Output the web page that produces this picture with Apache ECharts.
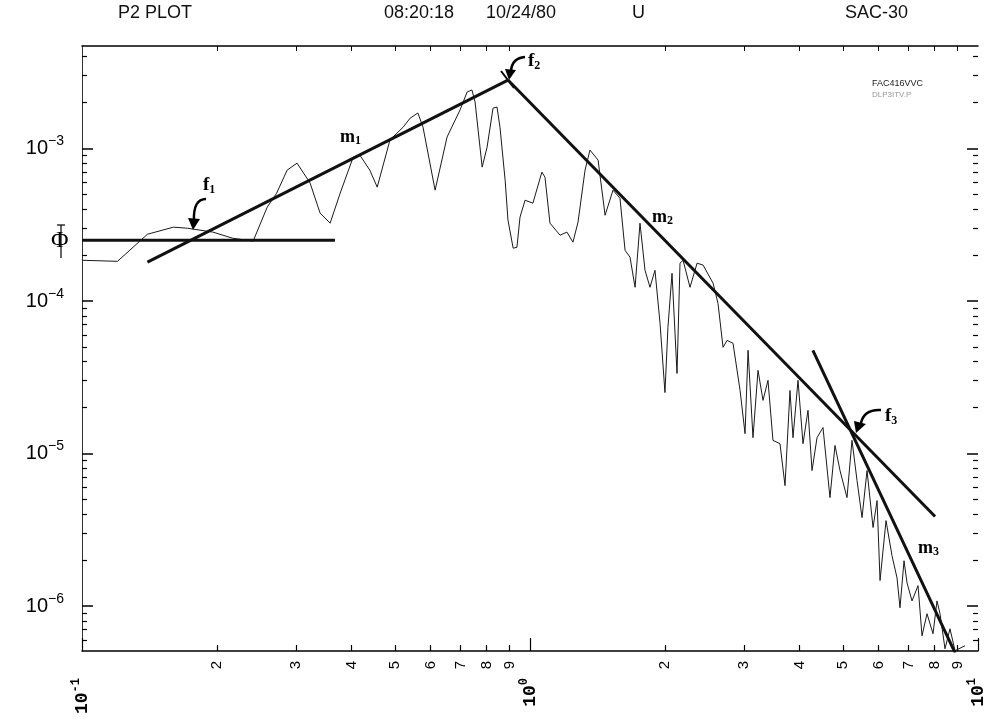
<!DOCTYPE html>
<html>
<head>
<meta charset="utf-8">
<title>P2 PLOT</title>
<script src="https://cdn.jsdelivr.net/npm/echarts@6.0.0/dist/echarts.min.js"></script>
<style>
html, body { margin: 0; padding: 0; background: #fff; }
#main { width: 995px; height: 727px; }
</style>
</head>
<body>
<div id="main"></div>
<script>
// spectrum (frequency, amplitude)
var freq = [0.100,0.120,0.140,0.160,0.172,0.196,0.217,0.241,0.259,0.272,
    0.287,0.302,0.323,0.340,0.358,0.377,0.403,0.417,0.439,0.456,
    0.487,0.521,0.540,0.562,0.577,0.614,0.653,0.698,0.724,0.742,
    0.754,0.782,0.802,0.827,0.844,0.857,0.880,0.893,0.917,0.935,
    0.950,0.975,1.015,1.063,1.080,1.108,1.167,1.209,1.247,1.280,
    1.327,1.361,1.419,1.471,1.532,1.588,1.630,1.672,1.716,1.760,
    1.806,1.853,1.901,1.951,2.001,2.032,2.075,2.129,2.162,2.196,
    2.276,2.360,2.434,2.562,2.628,2.697,2.753,2.839,2.944,3.020,
    3.067,3.146,3.228,3.312,3.398,3.486,3.614,3.709,3.805,3.864,
    3.965,4.068,4.174,4.261,4.372,4.508,4.673,4.795,4.920,5.100,
    5.233,5.370,5.510,5.653,5.831,5.952,6.044,6.233,6.427,6.595,
    6.697,6.837,6.943,7.124,7.348,7.499,7.695,7.936,8.100,8.227,
    8.440,8.660,8.886,9.354];
var amp = [1.85e-4,1.82e-4,2.74e-4,3.05e-4,3.00e-4,2.83e-4,2.58e-4,2.47e-4,4.12e-4,5.10e-4,
    7.21e-4,8.02e-4,5.93e-4,3.77e-4,3.24e-4,5.10e-4,8.78e-4,9.05e-4,7.21e-4,5.58e-4,
    1.14e-3,1.38e-3,1.58e-3,1.71e-3,1.38e-3,5.33e-4,1.19e-3,1.79e-3,2.35e-3,2.42e-3,
    2.02e-3,7.55e-4,1.02e-3,1.84e-3,1.87e-3,1.38e-3,6.20e-4,3.39e-4,2.22e-4,2.25e-4,
    3.55e-4,4.58e-4,4.38e-4,7.00e-4,6.49e-4,3.24e-4,2.70e-4,2.83e-4,2.43e-4,3.29e-4,
    7.21e-4,9.76e-4,8.39e-4,3.65e-4,5.33e-4,4.72e-4,2.15e-4,1.94e-4,1.23e-4,3.24e-4,
    1.59e-4,1.23e-4,1.59e-4,7.14e-5,2.51e-5,6.72e-5,1.52e-4,3.35e-5,1.77e-4,1.85e-4,
    1.23e-4,1.77e-4,1.72e-4,1.31e-4,9.66e-5,4.97e-5,5.52e-5,5.28e-5,2.59e-5,1.35e-5,
    4.75e-5,1.27e-5,3.51e-5,2.23e-5,3.02e-5,1.22e-5,1.16e-5,6.16e-6,2.59e-5,1.27e-5,
    3.02e-5,1.16e-5,1.92e-5,7.73e-6,1.27e-5,1.48e-5,5.14e-6,1.13e-5,7.73e-6,5.14e-6,
    1.22e-5,6.65e-6,3.80e-6,7.73e-6,3.27e-6,4.91e-6,1.47e-6,3.63e-6,2.14e-6,1.53e-6,
    9.74e-7,1.98e-6,1.42e-6,1.08e-6,1.36e-6,6.38e-7,8.90e-7,6.58e-7,1.08e-6,8.90e-7,
    5.24e-7,7.09e-7,5.09e-7,5.49e-7];

// straight-line fits
var phiLine = [[0.1, 2.5e-4], [0.367, 2.5e-4]];
var m1Line = [[0.140, 1.80e-4], [0.893, 2.81e-3]];
var m2Line = [[0.893, 2.81e-3], [8.02, 3.86e-6]];
var m3Line = [[4.28, 4.75e-5], [8.89, 4.93e-7]];

// axis ticks and labels
var xMinorTicks = [0.2,0.3,0.4,0.5,0.6,0.7,0.8,0.9,2,3,4,5,6,7,8,9];
var xMinorLabels = ['2','3','4','5','6','7','8','9','2','3','4','5','6','7','8','9'];
var xDecades = [0.1, 1, 10];
var xDecadeLabels = ['-1', '0', '1'];
var yDecades = [1e-3, 1e-4, 1e-5, 1e-6];
var yDecadeLabels = ['−3', '−4', '−5', '−6'];
var yMinorTicks = [6e-7,7e-7,8e-7,9e-7,
    2e-6,3e-6,4e-6,5e-6,6e-6,7e-6,8e-6,9e-6,
    2e-5,3e-5,4e-5,5e-5,6e-5,7e-5,8e-5,9e-5,
    2e-4,3e-4,4e-4,5e-4,6e-4,7e-4,8e-4,9e-4,
    2e-3,3e-3,4e-3];

var xMin = 0.1, xMax = 10, yMin = 5.07e-7, yMax = 4.7e-3;

function pick(vals, labels, v) {
    for (var i = 0; i < vals.length; i++) {
        if (Math.abs(vals[i] - v) / vals[i] < 1e-6) return labels[i];
    }
    return '';
}

var spectrum = freq.map(function (f, i) { return [f, amp[i]]; });

var chart = echarts.init(document.getElementById('main'));

var black = '#000';
var serifBold = { fontFamily: 'Liberation Serif', fontWeight: 'bold', color: black };

function fitSeries(name, data) {
    return {
        name: name, type: 'line', data: data, symbol: 'none',
        lineStyle: { color: '#111', width: 3 }, silent: true
    };
}

function subLabel(main, sub, size) {
    return {
        text: '{a|' + main + '}{b|' + sub + '}',
        rich: {
            a: Object.assign({ fontSize: size, lineHeight: size + 2 }, serifBold),
            b: Object.assign({ fontSize: 12, lineHeight: 12, verticalAlign: 'bottom' }, serifBold)
        }
    };
}

var option = {
    animation: false,
    backgroundColor: '#fff',
    grid: { left: 82, right: 17, top: 46, bottom: 76, outerBoundsMode: 'none' },
    xAxis: [{
        type: 'log', min: xMin, max: xMax, position: 'bottom',
        axisLine: { show: true, onZero: false, lineStyle: { color: black, width: 1.5 } },
        axisTick: { show: true, inside: true, length: 6, customValues: xMinorTicks, lineStyle: { color: black, width: 1.2 } },
        axisLabel: {
            show: true, customValues: xMinorTicks, rotate: 90, margin: 10,
            fontFamily: 'Liberation Sans', fontSize: 15, color: black,
            formatter: function (v) { return pick(xMinorTicks, xMinorLabels, v); }
        },
        splitLine: { show: false }
    }, {
        type: 'log', min: xMin, max: xMax, position: 'bottom',
        axisLine: { show: false },
        axisTick: { show: true, inside: true, length: 13, customValues: xDecades, lineStyle: { color: black, width: 1.2 } },
        axisLabel: {
            show: true, customValues: xDecades, rotate: 90, margin: 27,
            formatter: function (v) { return '{b|10}{s|' + pick(xDecades, xDecadeLabels, v) + '}'; },
            rich: {
                b: { fontFamily: 'Liberation Mono', fontWeight: 'bold', fontSize: 18, lineHeight: 24, color: black },
                s: { fontFamily: 'Liberation Mono', fontWeight: 'bold', fontSize: 12, lineHeight: 12, color: black, verticalAlign: 'top' }
            }
        },
        splitLine: { show: false }
    }, {
        type: 'log', min: xMin, max: xMax, position: 'top',
        axisLine: { show: true, onZero: false, lineStyle: { color: black, width: 1.5 } },
        axisTick: { show: true, inside: true, length: 5, customValues: xMinorTicks, lineStyle: { color: black } },
        axisLabel: { show: false },
        splitLine: { show: false }
    }],
    yAxis: [{
        type: 'log', min: yMin, max: yMax, position: 'left',
        axisLine: { show: true, onZero: false, lineStyle: { color: '#333', width: 1 } },
        axisTick: { show: true, inside: true, length: 5, customValues: yMinorTicks, lineStyle: { color: black, width: 1.2 } },
        axisLabel: { show: false },
        splitLine: { show: false }
    }, {
        type: 'log', min: yMin, max: yMax, position: 'left',
        axisLine: { show: false },
        axisTick: { show: true, inside: true, length: 11, customValues: yDecades, lineStyle: { color: black, width: 1.5 } },
        axisLabel: {
            show: true, customValues: yDecades, margin: 18,
            formatter: function (v) { return '{b|10}{s|' + pick(yDecades, yDecadeLabels, v) + '}'; },
            rich: {
                b: { fontFamily: 'Liberation Sans', fontSize: 20, lineHeight: 28, color: black },
                s: { fontFamily: 'Liberation Sans', fontSize: 14, lineHeight: 14, color: black, verticalAlign: 'top' }
            }
        },
        splitLine: { show: false }
    }, {
        type: 'log', min: yMin, max: yMax, position: 'right',
        axisLine: { show: false },
        axisTick: { show: true, inside: true, length: 5, customValues: yMinorTicks, lineStyle: { color: black, width: 1.2 } },
        axisLabel: { show: false },
        splitLine: { show: false }
    }, {
        type: 'log', min: yMin, max: yMax, position: 'right',
        axisLine: { show: false },
        axisTick: { show: true, inside: true, length: 11, customValues: yDecades, lineStyle: { color: black, width: 1.5 } },
        axisLabel: { show: false },
        splitLine: { show: false }
    }],
    series: [{
        name: 'spectrum', type: 'line', data: spectrum, symbol: 'none',
        lineStyle: { color: '#1a1a1a', width: 1 }, silent: true
    },
        fitSeries('phi', phiLine),
        fitSeries('m1', m1Line),
        fitSeries('m2', m2Line),
        fitSeries('m3', m3Line)
    ],
    graphic: [
        // header line
        { type: 'text', x: 118, y: 4, silent: true, style: { text: 'P2 PLOT', fontFamily: 'Liberation Sans', fontSize: 18, fill: '#111' } },
        { type: 'text', x: 384, y: 4, silent: true, style: { text: '08:20:18', fontFamily: 'Liberation Sans', fontSize: 18, fill: '#111' } },
        { type: 'text', x: 486, y: 4, silent: true, style: { text: '10/24/80', fontFamily: 'Liberation Sans', fontSize: 18, fill: '#111' } },
        { type: 'text', x: 632, y: 4, silent: true, style: { text: 'U', fontFamily: 'Liberation Sans', fontSize: 18, fill: '#111' } },
        { type: 'text', x: 845, y: 4, silent: true, style: { text: 'SAC-30', fontFamily: 'Liberation Sans', fontSize: 18, fill: '#111' } },
        { type: 'text', x: 872, y: 79, silent: true, style: { text: 'FAC416VVC', fontFamily: 'Liberation Sans', fontSize: 9, fill: '#222' } },
        { type: 'text', x: 872, y: 91, silent: true, style: { text: 'DLP3ITV.P', fontFamily: 'Liberation Sans', fontSize: 8, fill: '#999' } },
        // phi marker
        { type: 'text', x: 51, y: 229, silent: true, style: { text: 'Φ', fontFamily: 'Liberation Serif', fontSize: 24, fill: black } },
        { type: 'line', silent: true, shape: { x1: 61, y1: 225, x2: 61, y2: 258 }, style: { stroke: black, lineWidth: 1.2 } },
        { type: 'line', silent: true, shape: { x1: 57, y1: 225, x2: 65, y2: 225 }, style: { stroke: black, lineWidth: 1.2 } },
        // slope and corner labels
        { type: 'text', x: 340, y: 127, silent: true, style: subLabel('m', '1', 18) },
        { type: 'text', x: 652, y: 207, silent: true, style: subLabel('m', '2', 18) },
        { type: 'text', x: 918, y: 538, silent: true, style: subLabel('m', '3', 18) },
        { type: 'text', x: 203, y: 175, silent: true, style: subLabel('f', '1', 19) },
        { type: 'text', x: 528, y: 51, silent: true, style: subLabel('f', '2', 19) },
        { type: 'text', x: 885, y: 406, silent: true, style: subLabel('f', '3', 19) },
        // curved arrows to the corners
        { type: 'bezierCurve', silent: true, shape: { x1: 206, y1: 199, cpx1: 193, cpy1: 199, x2: 194, y2: 221 }, style: { stroke: black, lineWidth: 2.5, fill: null } },
        { type: 'polygon', silent: true, shape: { points: [[188, 218], [200, 219], [193, 230]] }, style: { fill: black } },
        { type: 'bezierCurve', silent: true, shape: { x1: 525, y1: 57, cpx1: 512, cpy1: 58, x2: 511, y2: 71 }, style: { stroke: black, lineWidth: 2.5, fill: null } },
        { type: 'polygon', silent: true, shape: { points: [[505, 69], [516, 70], [509, 80]] }, style: { fill: black } },
        { type: 'line', silent: true, shape: { x1: 501, y1: 71, x2: 514, y2: 88 }, style: { stroke: black, lineWidth: 2 } },
        { type: 'bezierCurve', silent: true, shape: { x1: 881, y1: 410, cpx1: 864, cpy1: 409, x2: 861, y2: 423 }, style: { stroke: black, lineWidth: 2.5, fill: null } },
        { type: 'polygon', silent: true, shape: { points: [[854, 421], [866, 424], [856, 433]] }, style: { fill: black } }
    ]
};

chart.setOption(option);
</script>
</body>
</html>
